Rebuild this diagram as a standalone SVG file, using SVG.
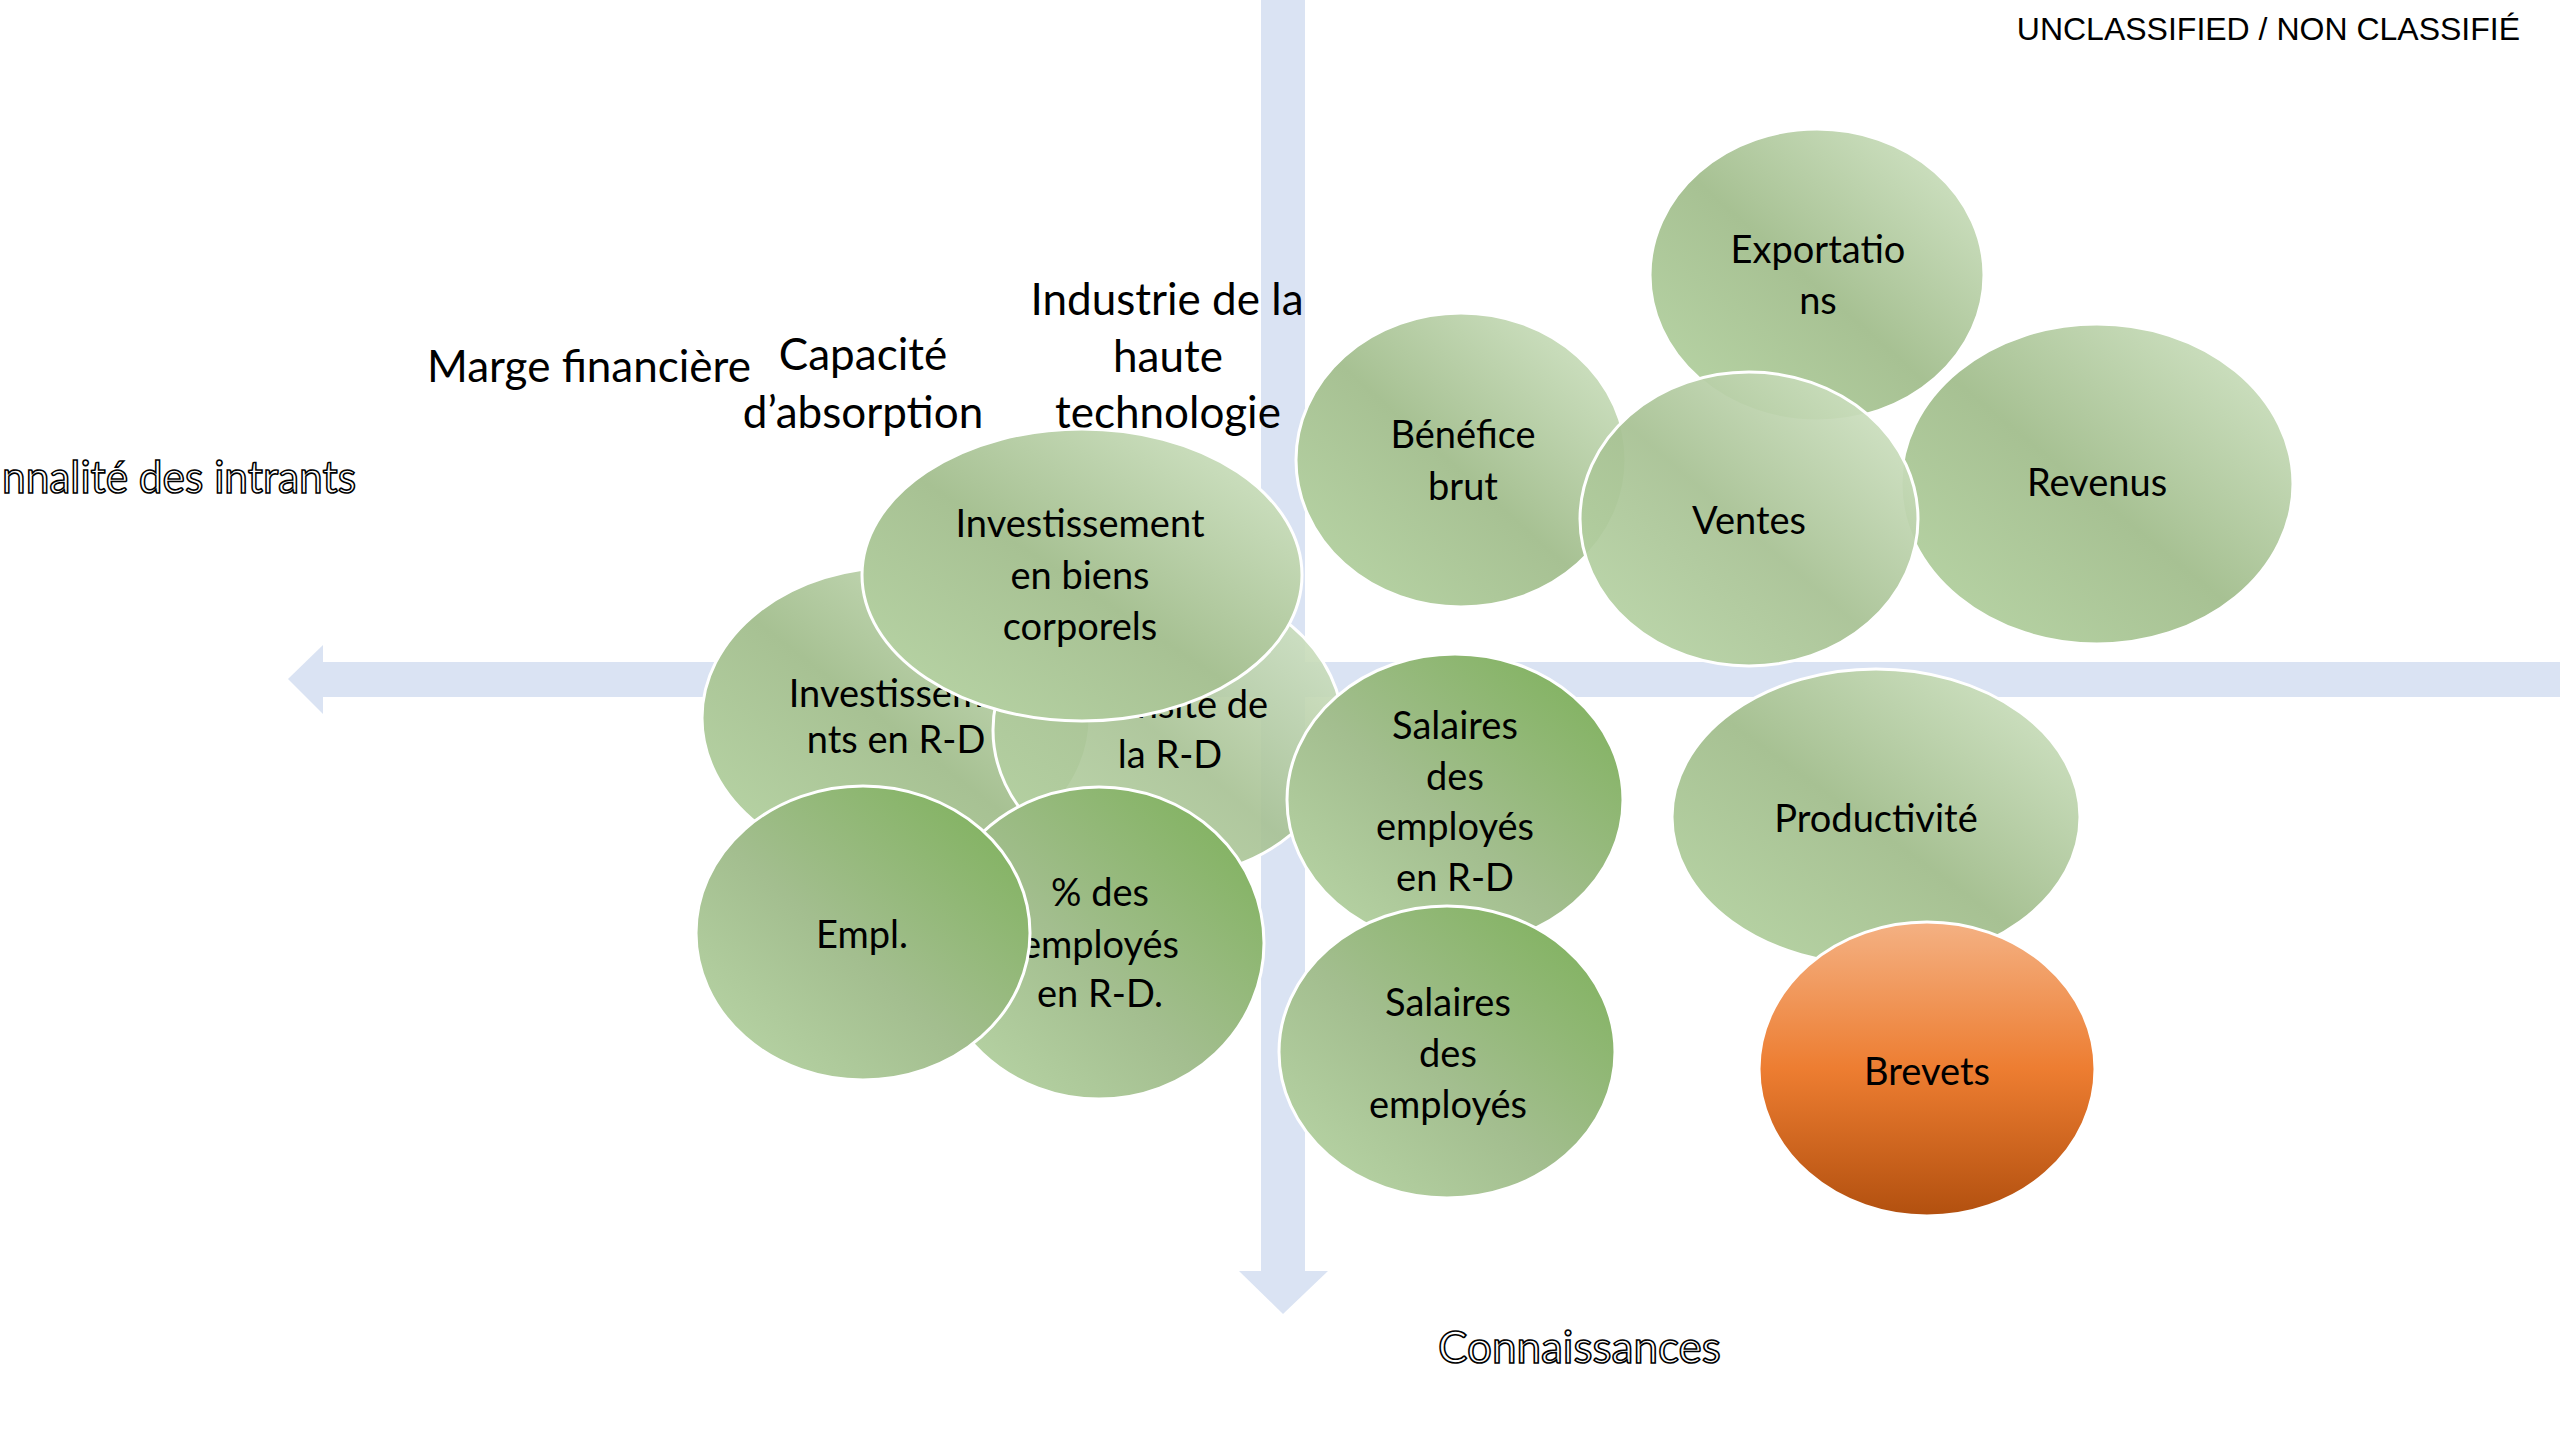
<svg xmlns="http://www.w3.org/2000/svg" width="2560" height="1440" viewBox="0 0 2560 1440">
<defs>
<linearGradient id="gLight" x1="0" y1="1" x2="1" y2="0">
<stop offset="0" stop-color="#BAD7A8"/>
<stop offset="0.48" stop-color="#A7C193"/>
<stop offset="1" stop-color="#D7E8CC"/>
</linearGradient>
<linearGradient id="gDark" x1="0" y1="1" x2="1" y2="0">
<stop offset="0" stop-color="#BBD8A9"/>
<stop offset="0.45" stop-color="#A3BE8F"/>
<stop offset="1" stop-color="#7BB057"/>
</linearGradient>
<linearGradient id="gOrange" x1="0" y1="0" x2="0" y2="1">
<stop offset="0" stop-color="#F4B183"/>
<stop offset="0.5" stop-color="#ED7D31"/>
<stop offset="1" stop-color="#B2500F"/>
</linearGradient>
<style>
.axis{fill:#DAE3F3}
.light{fill:url(#gLight);stroke:#FFFFFF;stroke-width:3}
.dark{fill:url(#gDark);stroke:#FFFFFF;stroke-width:3}
.orange{fill:url(#gOrange);stroke:#FFFFFF;stroke-width:3}
.nt{font-family:Lato,"Liberation Sans",sans-serif;font-size:38px;fill:#000000;text-anchor:middle}
.lbl{font-family:Lato,"Liberation Sans",sans-serif;font-size:44px;fill:#000000;text-anchor:middle}
.outl{font-family:Lato,"Liberation Sans",sans-serif;font-size:44px;fill:#FFFFFF;stroke:#000000;stroke-width:1.6}
.cls{font-family:"Liberation Sans",Arial,sans-serif;font-size:32px;fill:#000000;text-anchor:end}
</style>
</defs>
<rect width="2560" height="1440" fill="#FFFFFF"/>

<g id="connectors">
<rect class="axis" x="1261" y="0" width="44" height="1272"/>
<polygon class="axis" points="1239,1271 1328,1271 1283,1314"/>
<rect class="axis" x="322" y="662" width="2238" height="35"/>
<polygon class="axis" points="323,645 323,714 288,679"/>
</g>

<text class="cls" x="2520" y="40">UNCLASSIFIED / NON CLASSIFIÉ</text>

<g id="labels">
<text class="lbl" x="589" y="382">Marge financière</text>
<text class="lbl" x="863" y="370">Capacité</text>
<text class="lbl" x="863" y="428">d’absorption</text>
<text class="lbl" x="1167" y="315">Industrie de la</text>
<text class="lbl" x="1168" y="372">haute</text>
<text class="lbl" x="1168" y="428">technologie</text>
<text class="outl" x="2" y="493" textLength="354" lengthAdjust="spacingAndGlyphs">nnalité des intrants</text>
<text class="outl" x="1438" y="1363">Connaissances</text>
</g>

<g id="node-exportations">
<ellipse class="light" cx="1817" cy="275" rx="167" ry="146"/>
<text class="nt" x="1818" y="263">Exportatio</text>
<text class="nt" x="1818" y="314">ns</text>
</g>
<g id="node-benefice">
<ellipse class="light" cx="1461" cy="460" rx="165" ry="147"/>
<text class="nt" x="1463" y="448">Bénéfice</text>
<text class="nt" x="1463" y="500">brut</text>
</g>
<g id="node-revenus">
<ellipse class="light" cx="2097" cy="484" rx="196" ry="160"/>
<text class="nt" x="2097" y="496">Revenus</text>
</g>
<g id="node-ventes">
<ellipse class="light" cx="1749" cy="519" rx="169" ry="147" style="fill-opacity:0.93"/>
<text class="nt" x="1749" y="534">Ventes</text>
</g>
<g id="node-productivite">
<ellipse class="light" cx="1876" cy="817" rx="204" ry="148"/>
<text class="nt" x="1876" y="832">Productivité</text>
</g>
<g id="node-brevets">
<ellipse class="orange" cx="1927" cy="1069" rx="168" ry="147"/>
<text class="nt" x="1927" y="1085">Brevets</text>
</g>
<g id="node-invest-rd">
<ellipse class="light" cx="896" cy="718" rx="194" ry="151"/>
<text class="nt" x="896" y="707">Investisseme</text>
<text class="nt" x="896" y="753">nts en R-D</text>
</g>
<g id="node-intensite">
<ellipse class="light" cx="1168" cy="730" rx="175" ry="147" style="fill-opacity:0.9"/>
<text class="nt" x="1170" y="718">Intensité de</text>
<text class="nt" x="1170" y="768">la R-D</text>
</g>
<g id="node-pct-employes">
<ellipse class="dark" cx="1099" cy="943" rx="165" ry="156"/>
<text class="nt" x="1100" y="906">% des</text>
<text class="nt" x="1100" y="958">employés</text>
<text class="nt" x="1100" y="1007">en R-D.</text>
</g>
<g id="node-empl">
<ellipse class="dark" cx="863" cy="933" rx="167" ry="147"/>
<text class="nt" x="862" y="948">Empl.</text>
</g>
<g id="node-salaires-rd">
<ellipse class="dark" cx="1455" cy="800" rx="168" ry="146"/>
<text class="nt" x="1455" y="739">Salaires</text>
<text class="nt" x="1455" y="790">des</text>
<text class="nt" x="1455" y="840">employés</text>
<text class="nt" x="1455" y="891">en R-D</text>
</g>
<g id="node-salaires">
<ellipse class="dark" cx="1447" cy="1052" rx="168" ry="146"/>
<text class="nt" x="1448" y="1016">Salaires</text>
<text class="nt" x="1448" y="1067">des</text>
<text class="nt" x="1448" y="1118">employés</text>
</g>
<g id="node-invest-biens">
<ellipse class="light" cx="1082" cy="575" rx="220" ry="146"/>
<text class="nt" x="1080" y="537">Investissement</text>
<text class="nt" x="1080" y="589">en biens</text>
<text class="nt" x="1080" y="640">corporels</text>
</g>
</svg>
